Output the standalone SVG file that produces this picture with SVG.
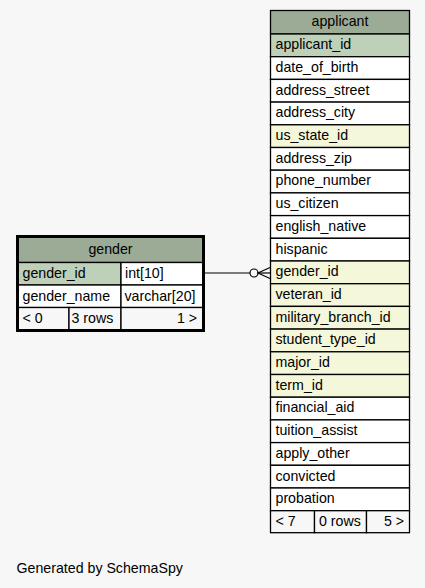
<svg xmlns="http://www.w3.org/2000/svg" width="425" height="588" viewBox="0 0 425 588">
<style>
text{font-family:"Liberation Sans",Arial,sans-serif;font-size:14.2px;fill:#000}
.hd{fill:#9bab96}
.pk{fill:#bed1b8}
.fk{fill:#f4f7da}
.pl{fill:#ffffff}
.ft{fill:#f7f7f7}
.c{stroke:#000;stroke-width:1.3}
.mid{text-anchor:middle}
.end{text-anchor:end}
.edge{fill:none;stroke:#000;stroke-width:1.2}
</style>
<rect width="425" height="588" fill="#f7f7f7"/>
<g id="connectors">
<line class="edge" x1="205" y1="273" x2="250" y2="273"/>
<circle class="edge" cx="254" cy="273" r="4"/>
<polyline class="edge" points="258,273 270,273"/>
<polyline class="edge" points="270,267.5 258,273 270,278.5"/>
</g>
<g id="gender">
<rect class="hd c" x="18" y="237" width="185" height="25.5"/>
<text class="mid" x="110.5" y="254">gender</text>
<rect class="pk c" x="18" y="262.5" width="103" height="22.5"/>
<rect class="pl c" x="121" y="262.5" width="82" height="22.5"/>
<text x="22.5" y="278">gender_id</text>
<text x="125" y="278">int[10]</text>
<rect class="pl c" x="18" y="285" width="103" height="22.5"/>
<rect class="pl c" x="121" y="285" width="82" height="22.5"/>
<text x="22.5" y="300.5">gender_name</text>
<text x="124.5" y="300.5">varchar[20]</text>
<rect class="ft c" x="18" y="307.5" width="51" height="22.5"/>
<rect class="ft c" x="69" y="307.5" width="52" height="22.5"/>
<rect class="ft c" x="121" y="307.5" width="82" height="22.5"/>
<text x="22.5" y="322.5">&lt; 0</text>
<text x="71.5" y="322.5">3 rows</text>
<text class="end" x="197" y="322.5">1 &gt;</text>
<rect x="17.5" y="236.5" width="186" height="94" fill="none" stroke="#000" stroke-width="3"/>
</g>
<g id="applicant">
<rect class="hd c" x="270.5" y="10.5" width="139" height="23.5"/>
<text class="mid" x="340" y="26">applicant</text>
<rect class="pk c" x="270.5" y="34" width="139" height="22.7"/>
<text x="275.5" y="49.2">applicant_id</text>
<rect class="pl c" x="270.5" y="56.7" width="139" height="22.7"/>
<text x="275.5" y="71.9">date_of_birth</text>
<rect class="pl c" x="270.5" y="79.4" width="139" height="22.7"/>
<text x="275.5" y="94.6">address_street</text>
<rect class="pl c" x="270.5" y="102.1" width="139" height="22.7"/>
<text x="275.5" y="117.3">address_city</text>
<rect class="fk c" x="270.5" y="124.8" width="139" height="22.7"/>
<text x="275.5" y="140">us_state_id</text>
<rect class="pl c" x="270.5" y="147.5" width="139" height="22.7"/>
<text x="275.5" y="162.7">address_zip</text>
<rect class="pl c" x="270.5" y="170.2" width="139" height="22.7"/>
<text x="275.5" y="185.4">phone_number</text>
<rect class="pl c" x="270.5" y="192.9" width="139" height="22.7"/>
<text x="275.5" y="208.1">us_citizen</text>
<rect class="pl c" x="270.5" y="215.6" width="139" height="22.7"/>
<text x="275.5" y="230.8">english_native</text>
<rect class="pl c" x="270.5" y="238.3" width="139" height="22.7"/>
<text x="275.5" y="253.5">hispanic</text>
<rect class="fk c" x="270.5" y="261" width="139" height="22.7"/>
<text x="275.5" y="276.2">gender_id</text>
<rect class="fk c" x="270.5" y="283.7" width="139" height="22.7"/>
<text x="275.5" y="298.9">veteran_id</text>
<rect class="fk c" x="270.5" y="306.4" width="139" height="22.7"/>
<text x="275.5" y="321.6">military_branch_id</text>
<rect class="fk c" x="270.5" y="329.1" width="139" height="22.7"/>
<text x="275.5" y="344.3">student_type_id</text>
<rect class="fk c" x="270.5" y="351.8" width="139" height="22.7"/>
<text x="275.5" y="367">major_id</text>
<rect class="fk c" x="270.5" y="374.5" width="139" height="22.7"/>
<text x="275.5" y="389.7">term_id</text>
<rect class="pl c" x="270.5" y="397.2" width="139" height="22.7"/>
<text x="275.5" y="412.4">financial_aid</text>
<rect class="pl c" x="270.5" y="419.9" width="139" height="22.7"/>
<text x="275.5" y="435.1">tuition_assist</text>
<rect class="pl c" x="270.5" y="442.6" width="139" height="22.7"/>
<text x="275.5" y="457.8">apply_other</text>
<rect class="pl c" x="270.5" y="465.3" width="139" height="22.7"/>
<text x="275.5" y="480.5">convicted</text>
<rect class="pl c" x="270.5" y="488" width="139" height="22.7"/>
<text x="275.5" y="503.2">probation</text>
<rect class="ft c" x="270.5" y="510.7" width="44" height="22"/>
<rect class="ft c" x="314.5" y="510.7" width="52" height="22"/>
<rect class="ft c" x="366.5" y="510.7" width="43" height="22"/>
<text x="275.5" y="525.5">&lt; 7</text>
<text x="319" y="525.5">0 rows</text>
<text class="end" x="404" y="525.5">5 &gt;</text>
</g>
<text x="16.5" y="573">Generated by SchemaSpy</text>
</svg>
